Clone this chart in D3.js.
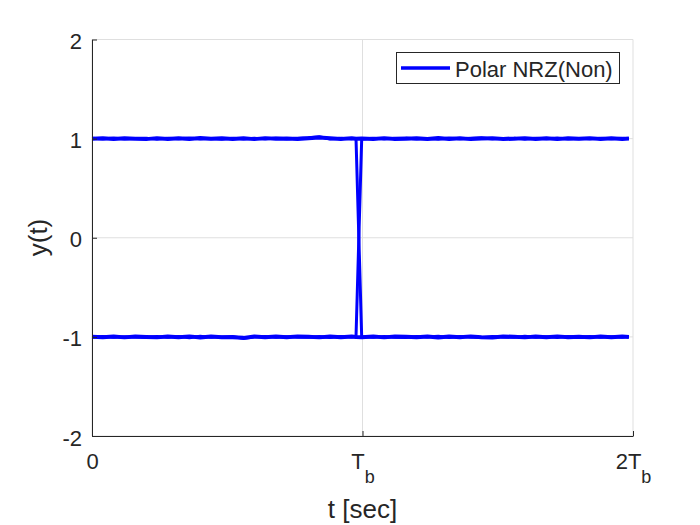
<!DOCTYPE html>
<html>
<head>
<meta charset="utf-8">
<script src="https://cdn.jsdelivr.net/npm/d3@7"></script>
<style>
  body { margin: 0; background: #ffffff; }
  text { font-family: "Liberation Sans", Arial, sans-serif; fill: #262626; }
</style>
</head>
<body>
<div id="chart"></div>
<script>
// sample instants, in units of Tb
const times = [0, 0.04, 0.08, 0.12, 0.16, 0.2, 0.24, 0.28, 0.32, 0.36, 0.4, 0.44, 0.48, 0.52, 0.56, 0.6, 0.64, 0.68, 0.72, 0.76, 0.8, 0.84, 0.88, 0.92, 0.96, 0.976,
  0.997, 1.04, 1.08, 1.12, 1.16, 1.2, 1.24, 1.28, 1.32, 1.36, 1.4, 1.44, 1.48, 1.52, 1.56, 1.6, 1.64, 1.68, 1.72, 1.76, 1.8, 1.84, 1.88, 1.92, 1.96, 1.985]

// eye traces (noisy received signal)
const highToLow = [1.003, 0.997, 1.006, 0.995, 1.002, 1.005, 0.994, 1.003, 0.998, 1.007, 0.996, 1.001, 0.993, 1.005, 0.997, 1.004, 0.995, 1.007, 0.999, 1.003, 1.009, 1.020, 0.997, 1.004, 0.995, 1.001,
  -0.998, -1.005, -0.995, -1.003, -1.007, -0.996, -1.002, -0.994, -1.006, -0.997, -1.003, -1.007, -0.995, -1.001, -1.005, -0.994, -1.003, -0.999, -1.006, -0.997, -1.002, -0.995, -1.004, -0.998, -1.003, -0.997]
const lowToHigh = [-1.003, -0.996, -1.005, -0.998, -1.001, -1.007, -0.995, -1.004, -0.997, -1.008, -0.994, -1.005, -1.000, -0.996, -1.016, -1.002, -0.995, -1.005, -0.999, -1.003, -1.004, -0.996, -1.006, -0.995, -1.002, -0.998,
  0.997, 1.005, 0.995, 1.004, 1.007, 0.996, 1.002, 0.994, 1.006, 0.998, 1.003, 1.008, 0.995, 1.001, 1.005, 0.994, 1.004, 0.999, 1.006, 0.997, 1.002, 0.995, 1.004, 0.998, 1.003, 1.000]
const highSteady = [0.999, 1.004, 0.996, 1.003, 0.998, 0.995, 1.005, 0.997, 1.004, 0.996, 1.006, 0.998, 1.004, 0.996, 1.003, 0.995, 1.005, 0.998, 1.002, 0.996, 1.004, 1.012, 1.003, 0.996, 1.005, 0.998,
  1.002, 0.996, 1.005, 0.997, 0.998, 1.004, 0.996, 1.006, 0.997, 1.003, 0.995, 1.001, 1.005, 0.997, 0.998, 1.005, 0.996, 1.003, 0.995, 1.004, 0.998, 1.005, 0.996, 1.003, 0.997, 1.002]
const lowSteady = [-0.998, -1.004, -0.996, -1.005, -0.997, -1.002, -1.005, -0.996, -1.003, -0.995, -1.006, -0.997, -1.004, -1.005, -1.010, -0.996, -1.004, -0.997, -1.003, -0.995, -0.998, -1.005, -0.996, -1.003, -0.997, -1.002,
  -1.004, -0.996, -1.005, -0.997, -0.998, -1.004, -0.996, -1.006, -0.997, -1.003, -0.995, -1.004, -1.006, -0.997, -0.998, -1.005, -0.996, -1.003, -0.995, -1.004, -0.998, -1.005, -0.996, -1.003, -0.997, -1.002]

const xTicks = [0, 1, 2]
const xTickMain = ['0', 'T', '2T']
const xTickSub = ['', 'b', 'b']
const yTicks = [-2, -1, 0, 1, 2]
const legendLabel = 'Polar NRZ(Non)'

var width = 700
var height = 525
var plotLeft = 92
var plotRight = 633
var plotTop = 39.5
var plotBottom = 436

var axisColor = '#262626'
var gridColor = '#dfdfdf'
var lineColor = '#0000ff'

var svg = d3.select('#chart').append('svg')
  .attr('width', width)
  .attr('height', height)

var x = d3.scaleLinear().domain([0, 2]).range([plotLeft, plotRight])
var y = d3.scaleLinear().domain([-2, 2]).range([plotBottom, plotTop])

// grid
svg.append('g').selectAll('line').data(xTicks).enter().append('line')
  .attr('x1', d => x(d)).attr('x2', d => x(d))
  .attr('y1', plotTop).attr('y2', plotBottom)
  .style('stroke', gridColor).style('stroke-width', 1)
svg.append('g').selectAll('line').data(yTicks).enter().append('line')
  .attr('x1', plotLeft).attr('x2', plotRight)
  .attr('y1', d => y(d)).attr('y2', d => y(d))
  .style('stroke', gridColor).style('stroke-width', 1)

// traces
var line = d3.line()
  .x((d, i) => x(times[i]))
  .y(d => y(d))

// steady traces only cover the flat levels, drawn outside the transition
;[highSteady, lowSteady, highToLow, lowToHigh].forEach(function (trace, k) {
  svg.append('path')
    .datum(trace)
    .attr('d', line)
    .style('fill', 'none')
    .style('stroke', lineColor)
    .style('stroke-width', k < 2 ? 4 : 3)
    .style('stroke-linejoin', 'round')
})

// x axis
var xAxis = svg.append('g')
  .attr('transform', `translate(0,${plotBottom})`)
  .call(d3.axisBottom(x).tickValues(xTicks).tickSize(-5).tickSizeOuter(0).tickFormat(''))
xAxis.select('.domain').style('stroke', axisColor)
xAxis.selectAll('.tick line').style('stroke', axisColor)
xAxis.selectAll('.tick').each(function (d, i) {
  var t = d3.select(this).append('text')
    .attr('y', 33)
    .attr('text-anchor', 'middle')
    .style('font-size', '22px')
  t.append('tspan').text(xTickMain[i])
  if (xTickSub[i]) {
    t.append('tspan').attr('dy', 14).style('font-size', '18px').text(xTickSub[i])
  }
})

// y axis
var yAxis = svg.append('g')
  .attr('transform', `translate(${plotLeft},0)`)
  .call(d3.axisLeft(y).tickValues(yTicks).tickSize(-5).tickSizeOuter(0).tickFormat(d => String(d)))
yAxis.select('.domain').style('stroke', axisColor)
yAxis.selectAll('.tick line').style('stroke', axisColor)
yAxis.selectAll('.tick text')
  .attr('x', -10)
  .attr('dy', 9)
  .style('font-size', '22px')
  .style('fill', axisColor)

// axis labels
svg.append('text')
  .attr('x', (plotLeft + plotRight) / 2)
  .attr('y', 518)
  .attr('text-anchor', 'middle')
  .style('font-size', '26px')
  .text('t [sec]')
svg.append('text')
  .attr('transform', 'translate(47,237.5) rotate(-90)')
  .attr('text-anchor', 'middle')
  .style('font-size', '26px')
  .text('y(t)')

// legend
var legend = svg.append('g')
legend.append('rect')
  .attr('x', 396.5).attr('y', 52.5)
  .attr('width', 223).attr('height', 31)
  .style('fill', '#ffffff')
  .style('stroke', axisColor)
  .style('stroke-width', 1)
legend.append('line')
  .attr('x1', 401).attr('x2', 450)
  .attr('y1', 68).attr('y2', 68)
  .style('stroke', lineColor)
  .style('stroke-width', 3.5)
legend.append('text')
  .attr('x', 455)
  .attr('y', 76.5)
  .style('font-size', '22px')
  .text(legendLabel)
</script>
</body>
</html>
